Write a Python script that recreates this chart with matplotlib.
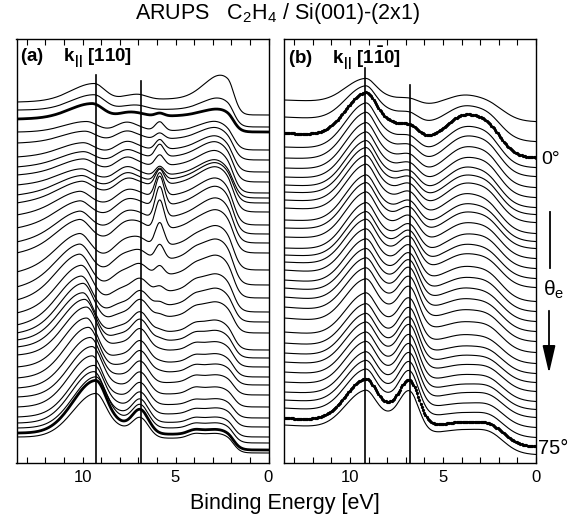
import numpy as np
import matplotlib
matplotlib.use("Agg")
import matplotlib.pyplot as plt
from matplotlib.patches import FancyArrowPatch

plt.rcParams["font.family"] = ["Liberation Sans", "DejaVu Sans"]
plt.rcParams["mathtext.fontset"] = "custom"
plt.rcParams["mathtext.rm"] = "Liberation Sans"
plt.rcParams["mathtext.bf"] = "Liberation Sans:bold"
plt.rcParams["mathtext.it"] = "Liberation Sans:italic"

E_MAX = 13.55          # left end of the binding-energy axis
Y_SPAN = 424           # vertical extent of each panel (arbitrary offset units)

# ---------------- panel (a): k|| [110] ----------------
# right-end (0 eV) and left-end (13.5 eV) offsets of every spectrum, top to bottom
A_RIGHT = [348, 336, 331, 313, 303, 291, 281, 270, 265, 260, 251, 238, 229, 220, 210,
           193, 178, 165, 151, 141, 130, 113, 105, 96, 86, 78, 68, 56, 45, 36, 26, 20, 13, 10]
A_LEFT = [361, 353, 344, 331, 320, 306, 296, 288, 278, 268, 260, 248, 235, 221, 210,
          191, 176, 163, 150, 138, 130, 123, 116, 108, 96, 85, 75, 66, 56, 46, 40, 35, 30, 26]
A_STEP = [18, 18, 18, 20, 24, 28, 32, 34, 30, 34, 40, 42, 44, 42, 40, 42, 44, 40, 35, 30,
          27, 24, 22, 20, 18, 17, 16, 15, 15, 15, 15, 15, 15, 14]
A_MAIN_E = [9.4, 9.4, 9.5, 9.8, 9.9, 10.0, 10.0, 10.0, 10.1, 10.1, 10.1, 10.2, 10.2, 10.2,
            10.2, 10.2, 10.2, 10.2, 10.1, 10.1, 10.0, 10.0, 9.9, 9.8, 9.8, 9.7, 9.6, 9.5,
            9.5, 9.4, 9.4, 9.3, 9.3, 9.3]
A_MAIN = [17, 15, 14, 10, 10, 11, 11, 12, 12, 13, 14, 16, 18, 21, 24, 28, 32, 36, 39, 41,
          43, 44, 45, 46, 47, 48, 48, 49, 50, 50, 51, 51, 53, 44]
A_80 = [0, 0, 0, 2, 2, 2, 2, 2, 2, 2, 2, 2, 3, 4, 5, 6, 8, 8, 8, 8, 8, 8, 8, 8, 8, 8, 8,
        8, 8, 8, 8, 8, 8, 8]
A_76 = [3, 3, 4, 7, 7, 8, 8, 9, 9, 9, 9, 9, 9, 9, 9, 8, 6, 4, 2, 0, 0, 0, 0, 0, 0, 0, 0,
        0, 0, 0, 0, 0, 0, 0]
A_69 = [4, 3, 2, 2, 2, 2, 2, 2, 2, 2, 3, 4, 5, 6, 8, 10, 12, 14, 16, 18, 20, 21, 22, 22,
        22, 22, 22, 22, 22, 22, 23, 23, 24, 20]
A_59 = [0, 0, 3, 9, 6, 10, 13, 11, 9, 12, 16, 24, 30, 32, 30, 24, 16, 10, 6, 4, 3, 2, 2,
        1, 1, 1, 0, 0, 0, 0, 0, 0, 0, 0]
A_40 = [0, 0, 0, 0, 0, 0, 0, 0, 0, 0, 0, 0, 0, 0, 1, 2, 3, 3, 4, 4, 4, 4, 4, 4, 4, 4, 4,
        4, 3, 3, 3, 3, 3, 3]
A_30 = [6, 5, 3, 7, 8, 9, 10, 10, 10, 10, 10, 10, 10, 10, 10, 10, 10, 10, 9, 9, 8, 7, 6,
        5, 5, 4, 4, 4, 3, 3, 3, 3, 3, 3]
A_22 = [20, 8, 4, 3, 3, 3, 3, 3, 3, 3, 3, 3, 3, 3, 3, 3, 3, 3, 3, 3, 3, 3, 3, 3, 3, 3, 3,
        3, 3, 3, 3, 3, 3, 3]
A_BOLD = [2, 32]                       # 0 deg and 75 deg spectra
A_LINES = [9.25, 6.85]
A_LINE_TOP = [388, 382]

# ---------------- panel (b): k|| [1-10] ----------------
B_RIGHT = [341, 321, 305, 295, 286, 275, 265, 255, 248, 240, 229, 221, 214, 204, 194,
           184, 175, 161, 151, 141, 131, 121, 110, 99, 89, 80, 71, 61, 53, 45, 35, 25, 16, 8]
B_LEFT = [363, 346, 330, 316, 305, 295, 286, 278, 271, 263, 255, 243, 235, 226, 215,
          208, 201, 193, 183, 175, 166, 156, 145, 131, 120, 110, 101, 91, 81, 71, 63, 55, 45, 38]
B_STEP = [12, 12, 12, 12, 12, 12, 12, 12, 12, 12, 13, 13, 13, 13, 13, 13, 13, 14, 14, 14,
          14, 14, 14, 14, 14, 14, 15, 15, 15, 15, 15, 15, 15, 15]
B_92 = [24, 34, 43, 45, 46, 46, 46, 46, 46, 46, 46, 46, 46, 46, 46, 45, 45, 45, 45, 44,
        44, 44, 44, 43, 43, 43, 43, 43, 43, 42, 42, 42, 42, 38]
B_80 = [6, 10, 14, 14, 14, 14, 14, 14, 14, 14, 14, 14, 14, 14, 14, 14, 14, 14, 14, 14,
        14, 14, 14, 14, 13, 13, 13, 13, 13, 13, 13, 13, 13, 12]
B_68 = [6, 10, 13, 14, 15, 16, 17, 18, 19, 20, 21, 22, 23, 24, 26, 28, 30, 32, 34, 36,
        38, 39, 40, 41, 42, 42, 43, 43, 43, 43, 43, 43, 43, 40]
B_38 = [12, 20, 27, 26, 26, 26, 25, 25, 24, 24, 23, 22, 21, 20, 19, 18, 17, 16, 15, 14,
        13, 12, 11, 10, 9, 9, 8, 8, 7, 7, 6, 6, 6, 6]
B_25 = [3, 7, 10, 10, 10, 10, 10, 9, 9, 9, 8, 8, 8, 8, 8, 7, 7, 7, 7, 6, 6, 6, 6, 5, 5,
        5, 5, 5, 5, 5, 5, 5, 5, 5]
B_DOTTED = [2, 32]
B_LINES = [9.2, 6.8]
B_LINE_TOP = [395, 378]

E = np.linspace(0, E_MAX, 420)


def peak(c, a, s_left, s_right):
    s = np.where(E > c, s_left, s_right)
    return a * np.exp(-(E - c) ** 2 / (2 * s ** 2))


def spectrum(right, left, step, step_c, step_w, peaks):
    sig = 1 / (1 + np.exp(-(E - step_c) / step_w))
    p = sum(peak(*pk) for pk in peaks)
    tilt = (left - right) - step - p[-1]
    return right + step * sig + tilt * (E / E_MAX) * sig + p


def style_axes(ax):
    ax.set_xlim(E_MAX, 0)
    ax.set_ylim(0, Y_SPAN)
    ax.set_xticks([10, 5, 0])
    ax.set_xticks(np.arange(1, 14), minor=True)
    ax.set_yticks([])
    ax.tick_params(axis="x", which="both", direction="in", top=True, length=4,
                   width=0.8, labelsize=12, pad=5)
    for sp in ax.spines.values():
        sp.set_linewidth(1.0)


fig = plt.figure(figsize=(5.78, 5.14), dpi=100)
ax_a = fig.add_axes([16.5 / 578, 51 / 514, 252 / 578, 424 / 514])
ax_b = fig.add_axes([284 / 578, 51 / 514, 252 / 578, 424 / 514])

for i in range(len(A_RIGHT)):
    pk = [(A_MAIN_E[i], A_MAIN[i], 1.2, 0.6), (8.0, A_80[i], 0.5, 0.5),
          (7.6, A_76[i], 0.5, 0.5), (6.9, A_69[i], 0.45, 0.45),
          (5.85, A_59[i], 0.24, 0.24), (4.0, A_40[i], 0.35, 0.35),
          (3.0, A_30[i], 0.8, 0.6), (2.2, A_22[i], 1.0, 0.35)]
    y = spectrum(A_RIGHT[i], A_LEFT[i], A_STEP[i], 1.9, 0.2, pk)
    ax_a.plot(E, y, color="black", lw=2.0 if i in A_BOLD else 0.8)
for e, top in zip(A_LINES, A_LINE_TOP):
    ax_a.plot([e, e], [0, top], color="black", lw=1.2)

for i in range(len(B_RIGHT)):
    pk = [(9.2, B_92[i], 1.05, 0.58), (8.0, B_80[i], 0.6, 0.6),
          (6.8, B_68[i], 0.55, 0.5), (3.8, B_38[i], 1.0, 1.0), (2.5, B_25[i], 0.6, 0.6)]
    y = spectrum(B_RIGHT[i], B_LEFT[i], B_STEP[i], 1.5, 0.45, pk)
    if i in B_DOTTED:
        ax_b.plot(E, y, color="black", lw=0.7, marker="o", ms=1.3, markevery=2)
    else:
        ax_b.plot(E, y, color="black", lw=0.8)
for e, top in zip(B_LINES, B_LINE_TOP):
    ax_b.plot([e, e], [0, top], color="black", lw=1.2)

style_axes(ax_a)
style_axes(ax_b)

fig.text(0.481, 1 - 14 / 514, r"ARUPS   C$_2$H$_4$ / Si(001)-(2x1)", ha="center",
         va="center", fontsize=15.5)
fig.text(20 / 578, 1 - 58 / 514, r"$\mathbf{(a)\ \ \ \ k_{||}\ [110]}$", ha="left",
         va="center", fontsize=13.5)
fig.text(288 / 578, 1 - 58 / 514, r"$\mathbf{(b)\ \ \ \ k_{||}\ [1\bar{1}0]}$", ha="left",
         va="center", fontsize=13.5)
fig.text(0.493, 1 - 503 / 514, "Binding Energy [eV]", ha="center", va="center",
         fontsize=15.5)

# angle annotations on the right
fig.text(541 / 578, 1 - 160 / 514, "0°", ha="left", va="center", fontsize=14)
fig.text(543 / 578, 1 - 290 / 514, r"θ$_{\mathrm{e}}$", ha="left", va="center",
         fontsize=15)
fig.text(538 / 578, 1 - 448 / 514, "75°", ha="left", va="center", fontsize=14.5)
fig.add_artist(plt.Line2D([550 / 578, 550 / 578], [1 - 212 / 514, 1 - 268 / 514],
                          color="black", lw=1.3))
fig.add_artist(FancyArrowPatch(
    (549 / 578, 1 - 308 / 514), (549 / 578, 1 - 376 / 514), transform=fig.transFigure,
    arrowstyle="-|>,head_length=1.2,head_width=0.28", mutation_scale=14, color="black",
    lw=1.3))

fig.savefig("out.png", dpi=100)
